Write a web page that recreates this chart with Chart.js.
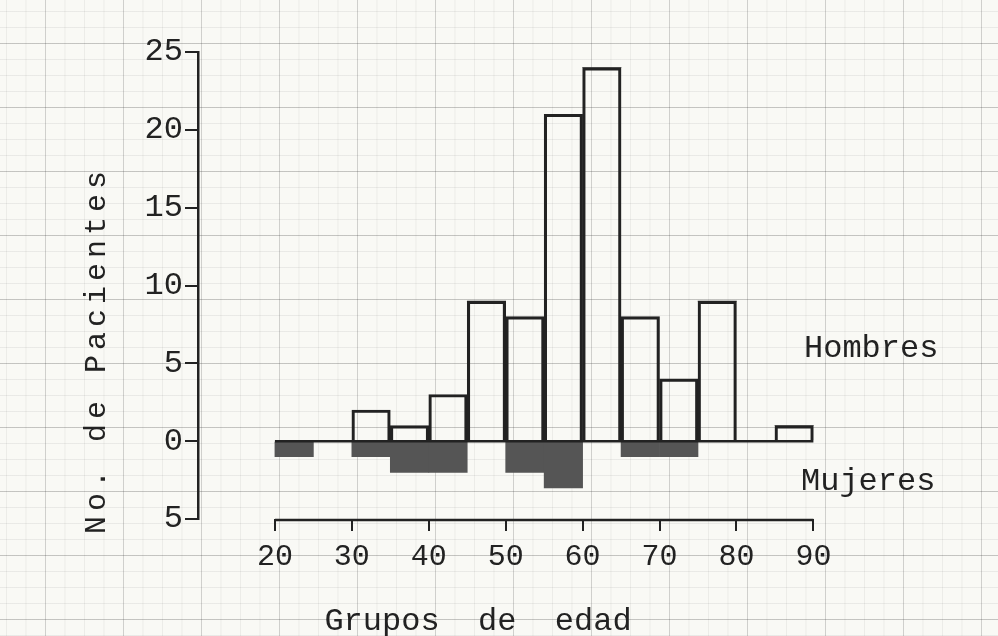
<!DOCTYPE html>
<html>
<head>
<meta charset="utf-8">
<script src="https://cdn.jsdelivr.net/npm/chart.js@4/dist/chart.umd.min.js"></script>
<style>
  html, body { margin: 0; padding: 0; }
  body {
    width: 998px; height: 636px; overflow: hidden;
    background-color: #f9f9f5;
    background-image:
      linear-gradient(to bottom, rgba(60,60,60,0.22) 1px, transparent 1px),
      linear-gradient(to right, rgba(60,60,60,0.16) 1px, transparent 1px),
      linear-gradient(to bottom, rgba(60,60,60,0.08) 1px, transparent 1px),
      linear-gradient(to right, rgba(60,60,60,0.07) 1px, transparent 1px);
    background-size: 100% 64px, 78px 100%, 100% 16px, 19.5px 100%;
    background-position: 0 43px, 45px 0, 0 11px, 6px 0;
  }
  canvas { display: block; }
</style>
</head>
<body>
<canvas id="myChart" width="998" height="636"></canvas>
<script>
// age groups (bin centres, 5-year groups from 20 to 90)
var ageGroups = [22.5, 27.5, 32.5, 37.5, 42.5, 47.5, 52.5, 57.5, 62.5, 67.5, 72.5, 77.5, 82.5, 87.5];
var hombres = [0, 0, 2, 1, 3, 9, 8, 21, 24, 8, 4, 9, 0, 1];
var mujeres = [-1, 0, -1, -2, -2, 0, -2, -3, 0, -1, -1, 0, 0, 0];
var xTicks = [20, 30, 40, 50, 60, 70, 80, 90];
var yTicks = [-5, 0, 5, 10, 15, 20, 25];

var ink = '#222';
var typewriter = "'Liberation Mono', 'DejaVu Sans Mono', monospace";

var paperText = {
  id: 'paperText',
  afterDatasetsDraw: function(chart) {
    var c = chart.ctx, x = chart.scales.x, y = chart.scales.y;
    c.save();
    c.strokeStyle = ink;
    c.lineWidth = 2.5;
    // zero line and age axis, only over 20-90
    c.beginPath();
    c.moveTo(x.getPixelForValue(20), y.getPixelForValue(0));
    c.lineTo(x.getPixelForValue(90), y.getPixelForValue(0));
    c.moveTo(x.getPixelForValue(20), chart.chartArea.bottom + 1);
    c.lineTo(x.getPixelForValue(90), chart.chartArea.bottom + 1);
    c.stroke();

    c.fillStyle = ink;
    c.font = '32px ' + typewriter;
    c.textBaseline = 'middle';
    c.textAlign = 'left';
    c.fillText('Hombres', 804, 349);
    c.fillText('Mujeres', 801, 482);
    c.textAlign = 'center';
    c.fillText('Grupos  de  edad', 478, 622);
    c.font = '30px ' + typewriter;
    c.letterSpacing = '5px';
    c.translate(97, 350);
    c.rotate(-Math.PI / 2);
    c.fillText('No. de Pacientes', 0, 0);
    c.restore();
  }
};

var ctx = document.getElementById('myChart').getContext('2d');
var myChart = new Chart(ctx, {
  type: 'bar',
  data: {
    labels: ageGroups,
    datasets: [{
      label: 'Hombres',
      data: ageGroups.map(function(a, i) { return {x: a, y: hombres[i]}; }),
      backgroundColor: 'rgba(255,255,255,0)',
      borderColor: ink,
      borderWidth: 2.5,
      barPercentage: 1,
      categoryPercentage: 1
    }, {
      label: 'Mujeres',
      data: ageGroups.map(function(a, i) { return {x: a, y: mujeres[i]}; }),
      backgroundColor: '#555',
      borderWidth: 0,
      barPercentage: 1,
      categoryPercentage: 1
    }]
  },
  options: {
    responsive: false,
    animation: false,
    layout: { padding: { top: 52, right: 0, bottom: 0, left: 0 } },
    plugins: {
      legend: { display: false },
      tooltip: { enabled: false }
    },
    scales: {
      x: {
        type: 'linear',
        stacked: true,
        min: 10,
        max: 114,
        offset: false,
        afterBuildTicks: function(s) { s.ticks = xTicks.map(function(v) { return {value: v}; }); },
        afterFit: function(s) { s.height = 117; },
        border: { display: false },
        grid: { offset: false, drawOnChartArea: false, drawTicks: true, tickLength: 12, color: ink, lineWidth: 2 },
        ticks: { color: ink, padding: 8, maxRotation: 0, autoSkip: false, font: { family: typewriter, size: 30 } }
      },
      y: {
        stacked: true,
        min: -5,
        max: 25,
        afterBuildTicks: function(s) { s.ticks = yTicks.map(function(v) { return {value: v}; }); },
        afterFit: function(s) { s.width = 198; },
        border: { display: true, color: ink, width: 2.5 },
        grid: { drawOnChartArea: false, drawTicks: true, tickLength: 13, color: ink, lineWidth: 2 },
        ticks: {
          color: ink, padding: 2,
          font: { family: typewriter, size: 32 },
          callback: function(v) { return Math.abs(v); }
        }
      }
    }
  },
  plugins: [paperText]
});
</script>
</body>
</html>
